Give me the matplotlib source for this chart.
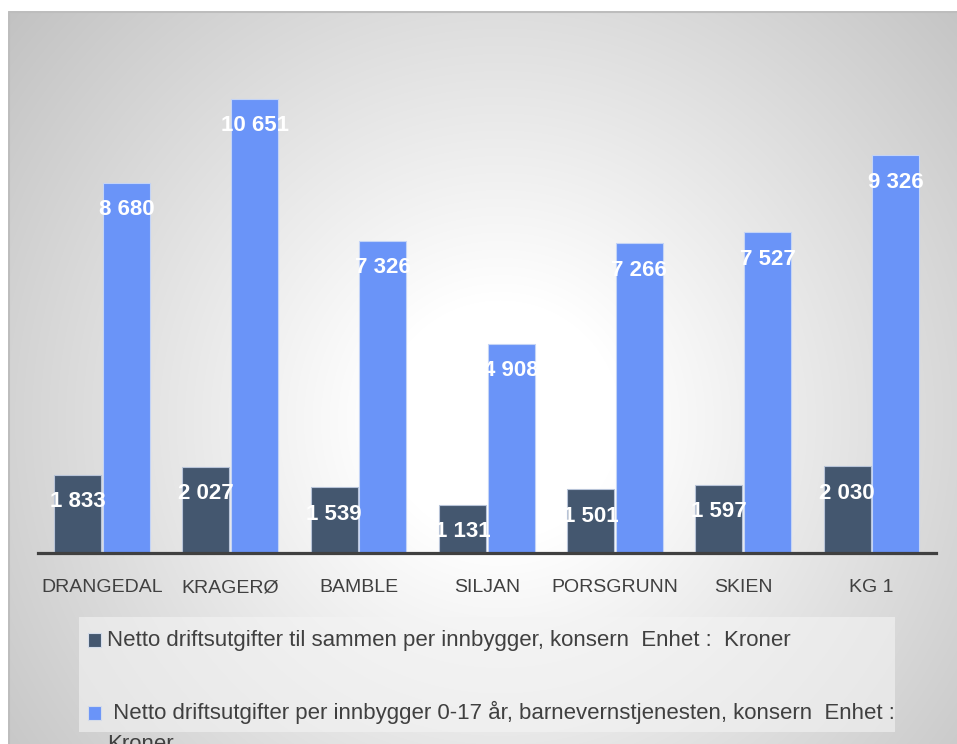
import numpy as np
import matplotlib
matplotlib.use("Agg")
import matplotlib.pyplot as plt
from matplotlib.patches import Rectangle

categories = ["DRANGEDAL", "KRAGERØ", "BAMBLE", "SILJAN", "PORSGRUNN", "SKIEN", "KG 1"]
total_per_capita = [1833, 2027, 1539, 1131, 1501, 1597, 2030]
child_welfare_per_child = [8680, 10651, 7326, 4908, 7266, 7527, 9326]
series_names = [
    "Netto driftsutgifter til sammen per innbygger, konsern  Enhet :  Kroner",
    " Netto driftsutgifter per innbygger 0-17 år, barnevernstjenesten, konsern  Enhet :\nKroner",
]

W, H = 957, 744
fig = plt.figure(figsize=(W / 100, H / 100), dpi=100)
fig.patch.set_facecolor("white")
FAM = ["Liberation Sans", "DejaVu Sans"]

def fx(px):
    return px / W

def fy(py):
    return 1 - py / H

# background with radial gradient
bx0, by0 = 8, 11
bg = fig.add_axes([fx(bx0), 0, 1 - fx(bx0), fy(by0)])
bg.set_xlim(bx0, W)
bg.set_ylim(H, by0)
yy, xx = np.mgrid[by0:H, bx0:W]
cx, cy = 500, 420
d = np.sqrt((xx - cx) ** 2 + (yy - cy) ** 2)
t = np.clip((d - 120) / 520, 0, 1)
g = 1 - 0.24 * t
img = np.dstack([g, g, g])
bg.imshow(img, extent=[bx0, W, H, by0], aspect="auto", interpolation="bilinear")
bg.add_patch(Rectangle((bx0 + 0.5, by0 + 0.5), W, H, fill=False, edgecolor="#bdbdbd", lw=1.5))
bg.axis("off")

# main axes
left_px, right_px = 37.9, 935.6
base_px = 553
scale = 0.04263
ymax = 12000
top_px = base_px - ymax * scale
ax = fig.add_axes([fx(left_px), fy(base_px), fx(right_px - left_px), (base_px - top_px) / H])
ax.patch.set_alpha(0)
x = np.arange(len(categories))
bw = 0.366
off = 0.19
c_dark = "#44576F"
c_blue = "#6A94F8"
b1 = ax.bar(x - off, total_per_capita, bw, color=c_dark, edgecolor="#b8c4d8", linewidth=0.8, zorder=2)
b2 = ax.bar(x + off, child_welfare_per_child, bw, color=c_blue, edgecolor="#c4d4f6", linewidth=0.8, zorder=2)
ax.set_xlim(-0.5, len(categories) - 0.5)
ax.set_ylim(0, ymax)

def fmt(v):
    return f"{v:,}".replace(",", " ")

for bars, vals in ((b1, total_per_capita), (b2, child_welfare_per_child)):
    for rect, v in zip(bars, vals):
        ax.annotate(fmt(v), (rect.get_x() + rect.get_width() / 2, v),
                    xytext=(0, -27), textcoords="offset pixels",
                    ha="center", va="center", color="white", fontsize=16,
                    fontweight="bold", family=FAM, zorder=3)

for s in ("left", "right", "top"):
    ax.spines[s].set_visible(False)
ax.spines["bottom"].set_color("#404040")
ax.spines["bottom"].set_linewidth(2.3)
ax.set_yticks([])
ax.set_xticks(x)
ax.set_xticklabels(categories, fontsize=14, color="#404040", family=FAM)
ax.tick_params(axis="x", length=0, pad=19)

# legend (manual)
fig.patches.append(Rectangle((fx(79), fy(732)), fx(895 - 79), (732 - 617) / H,
                             transform=fig.transFigure, facecolor="#f4f4f4", alpha=0.6,
                             edgecolor="none", zorder=1))
legend_rows = [(633, 646), (706, 719)]
line_gap = 31
for (bars, name, (mtop, base)) in zip((b1, b2), series_names, legend_rows):
    col = bars.patches[0].get_facecolor()
    fig.patches.append(Rectangle((fx(87.5), fy(mtop + 13.5)), fx(13.5), 13.5 / H, transform=fig.transFigure,
                                 facecolor=col, edgecolor="#d4dcea", lw=0.8, zorder=2))
    for i, line in enumerate(name.split("\n")):
        fig.text(fx(107), fy(base + i * line_gap), line, ha="left", va="baseline", fontsize=16,
                 color="#404040", family=FAM, zorder=3)

fig.savefig("out.png", dpi=100)
